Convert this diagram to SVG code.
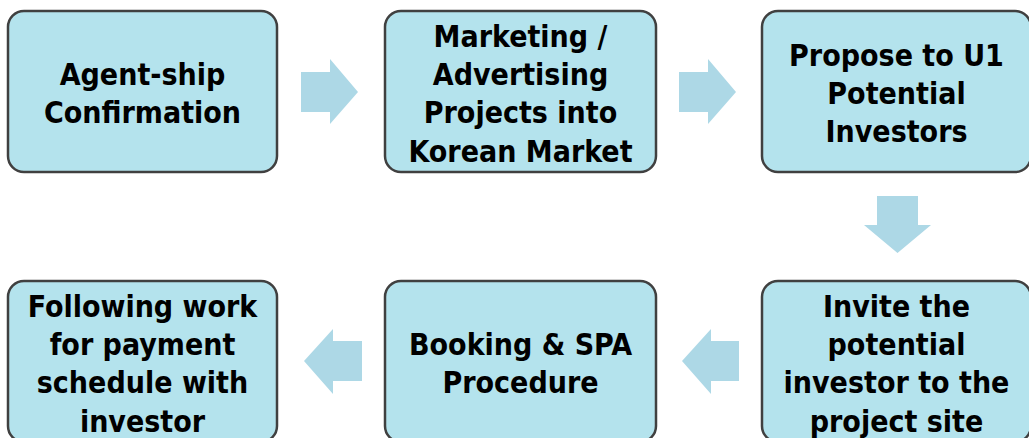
<svg xmlns="http://www.w3.org/2000/svg" width="1029" height="438" viewBox="0 0 1029 438">
<style>
.box{fill:#b4e3ed;stroke:#404040;stroke-width:2.5}
.arr{fill:#add8e6}
text{font-family:"DejaVu Sans Condensed","DejaVu Sans","Liberation Sans",sans-serif;font-stretch:condensed;font-weight:bold;font-size:30px;fill:#000;text-anchor:middle}
</style>
<rect width="1029" height="438" fill="#ffffff"/>
<g id="connectors">
<polygon class="arr" points="301,72 330,72 330,59 358,92 330,124 330,112 301,112"/>
<polygon class="arr" points="679,72 708,72 708,59 736,92 708,124 708,112 679,112"/>
<polygon class="arr" points="877,196 918,196 918,225 931,225 897.5,253 864,225 877,225"/>
<polygon class="arr" points="739,341 711,341 711,329 682,361 711,394 711,381 739,381"/>
<polygon class="arr" points="362,341 333,341 333,329 304,361 333,394 333,381 362,381"/>
</g>
<g id="n1">
<rect class="box" x="8" y="11" width="269" height="161" rx="16"/>
<text x="142.5" y="85">Agent-ship</text>
<text x="142.5" y="123">Confirmation</text>
</g>
<g id="n2">
<rect class="box" x="385" y="11" width="271" height="161" rx="16"/>
<text x="520.5" y="46.5">Marketing /</text>
<text x="520.5" y="85">Advertising</text>
<text x="520.5" y="123">Projects into</text>
<text x="520.5" y="161.5">Korean Market</text>
</g>
<g id="n3">
<rect class="box" x="762" y="11" width="269" height="161" rx="16"/>
<text x="896.5" y="65.5">Propose to U1</text>
<text x="896.5" y="104">Potential</text>
<text x="896.5" y="142">Investors</text>
</g>
<g id="n4">
<rect class="box" x="762" y="281" width="269" height="161" rx="16"/>
<text x="896.5" y="316.5">Invite the</text>
<text x="896.5" y="355">potential</text>
<text x="896.5" y="393">investor to the</text>
<text x="896.5" y="431.5">project site</text>
</g>
<g id="n5">
<rect class="box" x="385" y="281" width="271" height="161" rx="16"/>
<text x="520.5" y="355">Booking &amp; SPA</text>
<text x="520.5" y="393">Procedure</text>
</g>
<g id="n6">
<rect class="box" x="8" y="281" width="269" height="161" rx="16"/>
<text x="142.5" y="316.5">Following work</text>
<text x="142.5" y="355">for payment</text>
<text x="142.5" y="393">schedule with</text>
<text x="142.5" y="431.5">investor</text>
</g>
</svg>
